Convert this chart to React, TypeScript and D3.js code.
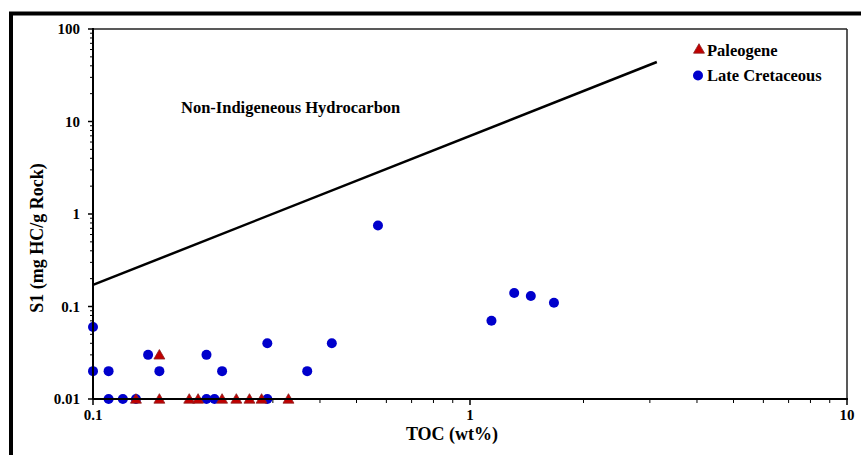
import React from "react";
import * as d3 from "d3";

// TOC (wt%) vs S1 (mg HC/g Rock)
const paleogeneToc = [0.13, 0.15, 0.15, 0.18, 0.19, 0.22, 0.24, 0.26, 0.28, 0.33];
const paleogeneS1 = [0.01, 0.03, 0.01, 0.01, 0.01, 0.01, 0.01, 0.01, 0.01, 0.01];

const cretaceousToc = [0.1, 0.1, 0.11, 0.11, 0.12, 0.13, 0.14, 0.15, 0.2, 0.2, 0.21, 0.22, 0.29, 0.29, 0.37, 0.43, 0.57, 1.14, 1.31, 1.45, 1.67];
const cretaceousS1 = [0.06, 0.02, 0.02, 0.01, 0.01, 0.01, 0.03, 0.02, 0.03, 0.01, 0.01, 0.02, 0.04, 0.01, 0.02, 0.04, 0.75, 0.07, 0.14, 0.13, 0.11];

// boundary line for non-indigenous hydrocarbon
const lineToc = [0.1, 3.13];
const lineS1 = [0.171, 44];

const xTicks = [0.1, 1, 10];
const yTicks = [0.01, 0.1, 1, 10, 100];

const W = 861;
const H = 455;
const margin = { left: 93, right: 14, top: 29, bottom: 56 };

export default function App() {
  const x = d3.scaleLog().domain([0.1, 10]).range([margin.left, W - margin.right]);
  const y = d3.scaleLog().domain([0.01, 100]).range([H - margin.bottom, margin.top]);
  const x0 = margin.left;
  const y0 = H - margin.bottom;
  const x1 = W - margin.right;
  const y1 = margin.top;

  const xMinor: number[] = [];
  for (const d of [0.1, 1]) for (let k = 2; k <= 9; k++) xMinor.push(d * k);
  const yMinor: number[] = [];
  for (const d of [0.01, 0.1, 1, 10]) for (let k = 2; k <= 9; k++) yMinor.push(d * k);

  const line = d3
    .line<number>()
    .x((_, i) => x(lineToc[i]))
    .y((d) => y(d));

  const tri = d3.symbol().type(d3.symbolTriangle).size(52)();
  const font = "'Liberation Serif', 'Times New Roman', serif";

  return (
    <div style={{ position: "fixed", left: 0, top: 0 }}>
      <svg width={W} height={H} style={{ display: "block", background: "#fff" }} fontFamily={font}>
        {/* outer frame */}
        <rect x={11} y={13.5} width={W + 20} height={H + 20} fill="none" stroke="#000" strokeWidth={4} />

        {/* plot border top/right */}
        <line x1={x0} x2={x1} y1={y1} y2={y1} stroke="#222" strokeWidth={1.5} />
        <line x1={x1} x2={x1} y1={y1} y2={y0} stroke="#222" strokeWidth={1.5} />

        {/* ticks */}
        {xTicks.map((t) => (
          <line key={"xt" + t} x1={x(t)} x2={x(t)} y1={y0} y2={y0 + 6} stroke="#000" strokeWidth={1.5} />
        ))}
        {xMinor.map((t) => (
          <line key={"xm" + t} x1={x(t)} x2={x(t)} y1={y0} y2={y0 + 4} stroke="#000" strokeWidth={1} />
        ))}
        {yTicks.map((t) => (
          <line key={"yt" + t} x1={x0 - 5} x2={x0} y1={y(t)} y2={y(t)} stroke="#000" strokeWidth={1.5} />
        ))}
        {yMinor.map((t) => (
          <line key={"ym" + t} x1={x0 - 3} x2={x0} y1={y(t)} y2={y(t)} stroke="#000" strokeWidth={1} />
        ))}

        {/* tick labels */}
        {xTicks.map((t) => (
          <text key={"xl" + t} x={x(t)} y={y0 + 21} textAnchor="middle" fontSize={15} fontWeight="bold">
            {t}
          </text>
        ))}
        {yTicks.map((t) => (
          <text key={"yl" + t} x={x0 - 13} y={y(t) + 5} textAnchor="end" fontSize={15} fontWeight="bold">
            {t}
          </text>
        ))}

        {/* boundary line */}
        <path d={line(lineS1) || ""} fill="none" stroke="#000" strokeWidth={2.5} />

        {/* data */}
        {cretaceousToc.map((t, i) => (
          <circle key={"c" + i} cx={x(t)} cy={y(cretaceousS1[i])} r={5} fill="#0000CC" />
        ))}
        {paleogeneToc.map((t, i) => (
          <path
            key={"p" + i}
            d={tri || ""}
            transform={`translate(${x(t)},${y(paleogeneS1[i]) + 1})`}
            fill="#C00000"
            stroke="#8B2020"
            strokeWidth={0.8}
          />
        ))}

        {/* axes */}
        <line x1={x0} x2={x1 + 1} y1={y0} y2={y0} stroke="#000" strokeWidth={2} />
        <line x1={x0} x2={x0} y1={y1 - 1} y2={y0} stroke="#000" strokeWidth={2} />

        {/* annotation */}
        <text x={181} y={113} fontSize={16.5} fontWeight="bold">
          Non-Indigeneous Hydrocarbon
        </text>

        {/* legend */}
        <path d={tri || ""} transform="translate(699,50)" fill="#C00000" stroke="#8B2020" strokeWidth={0.8} />
        <text x={707} y={55.5} fontSize={16.5} fontWeight="bold">
          Paleogene
        </text>
        <circle cx={698} cy={75.5} r={5} fill="#0000CC" />
        <text x={707} y={80.5} fontSize={16.5} fontWeight="bold">
          Late Cretaceous
        </text>

        {/* axis titles */}
        <text x={452} y={440} textAnchor="middle" fontSize={18} fontWeight="bold">
          TOC (wt%)
        </text>
        <text transform="translate(43,238) rotate(-90)" textAnchor="middle" fontSize={18} fontWeight="bold">
          S1 (mg HC/g Rock)
        </text>
      </svg>
    </div>
  );
}
